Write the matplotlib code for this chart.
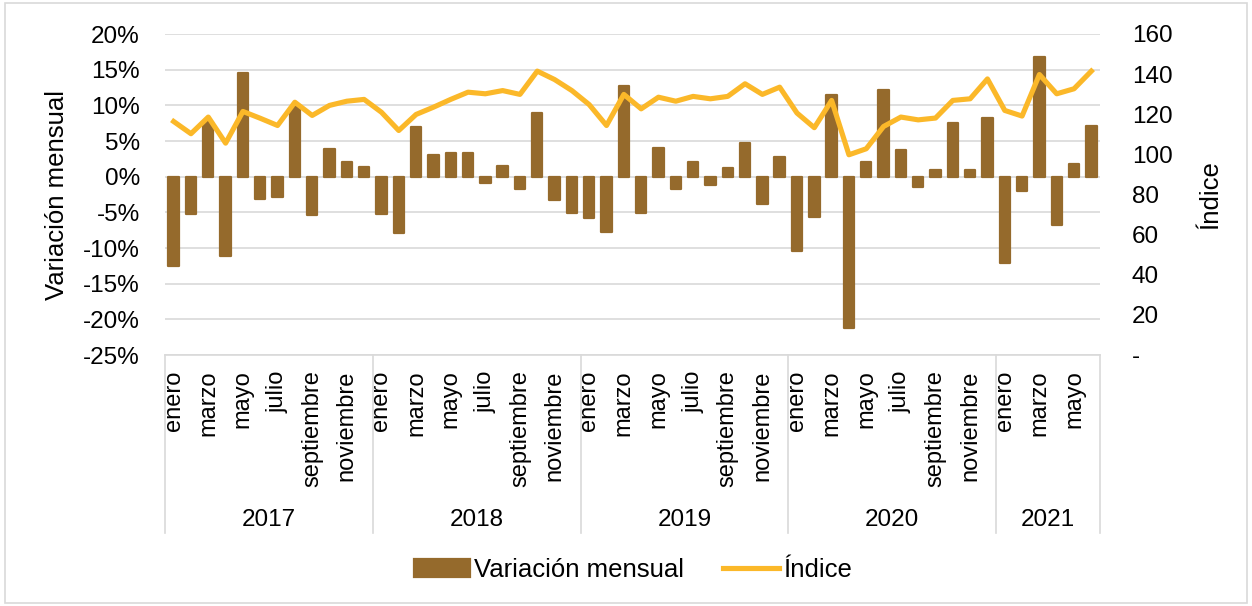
import matplotlib
matplotlib.use("Agg")
import matplotlib.pyplot as plt
import numpy as np
from matplotlib.patches import Rectangle
from matplotlib.ticker import FuncFormatter

plt.rcParams['font.family'] = ['Liberation Sans', 'DejaVu Sans']

years = ["2017", "2018", "2019", "2020", "2021"]
months_per_year = [12, 12, 12, 12, 6]
month_names = ["enero", "febrero", "marzo", "abril", "mayo", "junio", "julio",
               "agosto", "septiembre", "octubre", "noviembre", "diciembre"]

variacion = [
    -12.5, -5.2, 7.6, -11.1, 14.6, -3.2, -2.8, 9.7, -5.4, 3.9, 2.0, 1.3,
    -5.2, -7.9, 7.0, 3.1, 3.3, 3.3, -0.9, 1.5, -1.7, 8.9, -3.3, -5.1,
    -5.8, -7.7, 12.7, -5.1, 4.0, -1.7, 2.0, -1.1, 1.2, 4.7, -3.9, 2.8,
    -10.4, -5.6, 11.5, -21.2, 2.1, 12.1, 3.8, -1.4, 1.0, 7.5, 0.9, 8.2,
    -12.1, -2.0, 16.8, -6.8, 1.8, 7.1,
]
indice = [
    116.4, 110.3, 118.6, 105.6, 121.4, 118.0, 114.4, 126.0, 119.4, 124.4, 126.5, 127.4,
    121.0, 111.9, 119.9, 123.5, 127.4, 131.0, 130.2, 131.8, 129.9, 141.5, 137.3, 131.8,
    124.8, 114.4, 129.9, 122.7, 128.5, 126.5, 128.9, 127.7, 128.9, 135.2, 129.9, 133.5,
    120.6, 113.3, 126.9, 99.8, 102.8, 113.9, 118.6, 117.2, 118.1, 126.9, 127.7, 137.6,
    121.9, 119.1, 139.8, 130.2, 132.7, 141.5,
]

BAR_C = "#956A2C"
LINE_C = "#FBB829"
GRID_C = "#D9D9D9"

W, H = 1252, 606
fig = plt.figure(figsize=(W / 100, H / 100), dpi=100)
L, R, T, B = 165, 1100, 34, 355
ax = fig.add_axes([L / W, 1 - B / H, (R - L) / W, (B - T) / H])
ax2 = ax.twinx()

n = len(variacion)
x = np.arange(n)
ax.bar(x, np.array(variacion) / 100, width=0.6, color=BAR_C, edgecolor=BAR_C,
       linewidth=1.6, joinstyle='round', zorder=3, label="Variación mensual")
ax2.plot(x, indice, color=LINE_C, linewidth=3.7, solid_joinstyle='round',
         zorder=4, label="Índice")

ax.set_xlim(-0.5, n - 0.5)
ax.set_ylim(-0.25, 0.20)
ax.set_yticks(np.arange(-0.25, 0.2001, 0.05))


def pct(v, p):
    r = int(round(v * 100))
    return f"{r}%"


ax.yaxis.set_major_formatter(FuncFormatter(pct))
ax.grid(axis='y', color=GRID_C, linewidth=1.2, zorder=0)
ax.set_axisbelow(True)

ax2.set_ylim(0, 160)
ax2.set_yticks(np.arange(0, 161, 20))
ax2.yaxis.set_major_formatter(FuncFormatter(lambda v, p: "-" if abs(v) < 1e-9 else f"{v:.0f}"))

for a in (ax, ax2):
    for s in ("top", "left", "right"):
        a.spines[s].set_visible(False)
ax.spines["bottom"].set_color(GRID_C)
ax.spines["bottom"].set_linewidth(1.2)
ax2.spines["bottom"].set_visible(False)

ax.tick_params(axis='y', length=0, pad=18, labelsize=17.5)
ax2.tick_params(axis='y', length=0, pad=23, labelsize=17.5)

# month tick labels (every other month)
tick_pos, tick_lab = [], []
start = 0
for y, m in zip(years, months_per_year):
    for k in range(0, m, 2):
        tick_pos.append(start + k)
        tick_lab.append(month_names[k])
    start += m
ax.set_xticks(tick_pos)
ax.set_xticklabels(tick_lab, rotation=90, va='top', ha='center')
ax.tick_params(axis='x', length=0, pad=11, labelsize=17)

# year group labels and separators
sep_bottom = (B - 533) / (B - T)
trans = ax.get_xaxis_transform()
start = 0
bounds = [-0.5]
for y, m in zip(years, months_per_year):
    center = start + (m - 1) / 2
    ax.text(center, (B - 520) / (B - T), y, transform=trans, ha='center',
            va='center', fontsize=17.5)
    start += m
    bounds.append(start - 0.5)
for bx in bounds:
    ax.plot([bx, bx], [0, sep_bottom], transform=trans, color=GRID_C,
            linewidth=1.2, clip_on=False)

ax.set_ylabel("Variación mensual", fontsize=18.5, va='center')
ax.yaxis.set_label_coords((57 - L) / (R - L), 0.5)
ax2.set_ylabel("Índice", fontsize=18.5, rotation=90, va='center')
ax2.yaxis.set_label_coords((1210 - L) / (R - L), 0.5)

h1, l1 = ax.get_legend_handles_labels()
h2, l2 = ax2.get_legend_handles_labels()
fig.legend(h1 + h2, l1 + l2, loc='center', bbox_to_anchor=(633 / W, 1 - 570 / H),
           ncol=2, frameon=False, fontsize=18.5, handlelength=2.2,
           handleheight=0.7, handletextpad=0.15, columnspacing=1.5)

fig.patches.append(Rectangle((5 / W, 3 / H), (W - 10) / W, (H - 6) / H,
                             transform=fig.transFigure, fill=False,
                             edgecolor=GRID_C, linewidth=1.2))

fig.savefig("out.png", dpi=100)
